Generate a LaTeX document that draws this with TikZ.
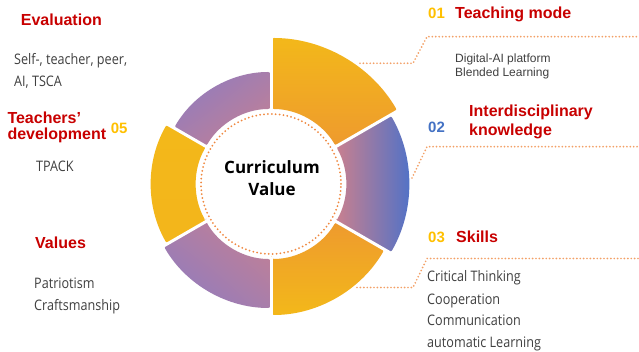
\documentclass[tikz,border=0pt]{standalone}
\usepackage{fontspec}
\setmainfont{Open Sans}
\newfontfamily\headfont{Liberation Sans}
\newfontfamily\bodyfont{Open Sans}[FakeStretch=0.87]
\newfontfamily\hubfont{Open Sans}
\usetikzlibrary{shadings}

\definecolor{hdred}{HTML}{C80000}
\definecolor{numgold}{HTML}{FFC000}
\definecolor{numblue}{HTML}{4472C4}
\definecolor{bodygray}{HTML}{404040}
\definecolor{ringyellow}{HTML}{F3B81A}
\definecolor{ringorange}{HTML}{EE9A2E}
\definecolor{ringpink}{HTML}{C9808F}
\definecolor{ringpurple}{HTML}{8A7BC4}
\definecolor{ringmauve}{HTML}{A97EAA}
\definecolor{ringblue}{HTML}{4A71CA}
\definecolor{hubdots}{HTML}{F08840}
\definecolor{leadcol}{HTML}{F3A066}

\tikzset{
  heading/.style={anchor=base west, inner sep=0pt, text=hdred,
    font=\headfont\bfseries\fontsize{16}{18}\selectfont},
  numlabel/.style={anchor=base west, inner sep=0pt,
    font=\headfont\bfseries\fontsize{15}{17}\selectfont},
  bodytext/.style={anchor=base west, inner sep=0pt, text=bodygray,
    font=\bodyfont\fontsize{14.5}{16}\selectfont},
  platformtext/.style={anchor=base west, inner sep=0pt, text=bodygray,
    font=\headfont\fontsize{12}{14}\selectfont},
  hubtext/.style={anchor=base, inner sep=0pt, text=black,
    font=\hubfont\bfseries\fontsize{17}{19}\selectfont},
  leader/.style={draw=leadcol, line width=1.9pt, line cap=round,
    dash pattern=on 0pt off 3.4pt},
  sepline/.style={white, line width=3pt},
  segment/.style={rounded corners=3pt},
}

\begin{document}
\begin{tikzpicture}[x=1pt,y=1pt]
\path[use as bounding box, fill=white] (0,0) rectangle (639,352);

% ---- ring of six sectors around the hub ----
\begin{scope}[shift={(271,168)}]
  % 01 teaching mode
  \shade[segment, top color=ringyellow, bottom color=ringorange]
    (30:75) -- (30:146) arc[start angle=30, end angle=90, radius=146]
    -- (90:75) arc[start angle=90, end angle=30, radius=75] -- cycle;
  % 02 interdisciplinary knowledge
  \shade[segment, left color=ringpink, right color=ringblue]
    (-30:75) -- (-30:138) arc[start angle=-30, end angle=30, radius=138]
    -- (30:75) arc[start angle=30, end angle=-30, radius=75] -- cycle;
  % 03 skills
  \shade[segment, top color=ringorange, bottom color=ringyellow]
    (-90:75) -- (-90:131) arc[start angle=-90, end angle=-30, radius=131]
    -- (-30:75) arc[start angle=-30, end angle=-90, radius=75] -- cycle;
  % 04 values
  \shade[segment, upper right=ringpink, lower left=ringpurple,
         upper left=ringmauve, lower right=ringmauve]
    (-150:75) -- (-150:124) arc[start angle=-150, end angle=-90, radius=124]
    -- (-90:75) arc[start angle=-90, end angle=-150, radius=75] -- cycle;
  % 05 teachers' development
  \shade[segment, top color=ringyellow, bottom color=ringyellow!92!ringorange]
    (150:75) -- (150:120) arc[start angle=150, end angle=210, radius=120]
    -- (210:75) arc[start angle=210, end angle=150, radius=75] -- cycle;
  % evaluation
  \shade[segment, upper left=ringpurple, lower right=ringpink,
         upper right=ringmauve, lower left=ringmauve]
    (90:75) -- (90:112) arc[start angle=90, end angle=150, radius=112]
    -- (150:75) arc[start angle=150, end angle=90, radius=75] -- cycle;
  % white gaps between sectors
  \foreach \a in {30,90,150,210,270,330}
    \draw[sepline] (\a:73) -- (\a:152);
  % dotted hub outline
  \draw[hubdots, line width=2pt, line cap=round, dash pattern=on 0pt off 3.9pt]
    (0,0) circle[radius=70];
\end{scope}

% ---- hub text ----
\node[hubtext] (hubA) at (272,178) {Curriculum};
\node[hubtext] (hubB) at (272,156.3) {Value};

% ---- leader lines ----
\coordinate (l1a) at (360,288.7);
\coordinate (l1b) at (413,288.7);
\coordinate (l1c) at (427,315.3);
\coordinate (l1d) at (639,315.3);
\coordinate (l2a) at (412,174);
\coordinate (l2c) at (427,205.3);
\coordinate (l2d) at (639,205.3);
\coordinate (l3a) at (357,64.5);
\coordinate (l3b) at (413,64.5);
\coordinate (l3c) at (427,93.5);
\coordinate (l3d) at (639,93.5);
\draw[leader] (l1a) -- (l1b) -- (l1c) -- (l1d);
\draw[leader] (l2a) -- (l2c) -- (l2d);
\draw[leader] (l3a) -- (l3b) -- (l3c) -- (l3d);

% ---- right side labels ----
\node[numlabel, text=numgold] (n01) at (428,333.5) {01};
\node[heading] (h01) at (455,333.5) {Teaching mode};
\node[platformtext] (t01a) at (455,289.7) {Digital-AI platform};
\node[platformtext] (t01b) at (455,275.3) {Blended Learning};

\node[numlabel, text=numblue] (n02) at (428,219.7) {02};
\node[heading] (h02a) at (469,235.3) {Interdisciplinary};
\node[heading] (h02b) at (469,216) {knowledge};

\node[numlabel, text=numgold] (n03) at (428,109.3) {03};
\node[heading] (h03) at (456,109.3) {Skills};
\node[bodytext] (t03a) at (427,70) {Critical Thinking};
\node[bodytext] (t03b) at (427,47.5) {Cooperation};
\node[bodytext] (t03c) at (427,26) {Communication};
\node[bodytext] (t03d) at (427,4.3) {automatic Learning};

% ---- left side labels ----
\node[heading] (hEv) at (20.7,326) {Evaluation};
\node[bodytext] (tEva) at (14,287) {Self-, teacher, peer,};
\node[bodytext] (tEvb) at (14,265.3) {AI, TSCA};

\node[heading] (h05a) at (7.3,228.7) {Teachers’};
\node[heading] (h05b) at (7.3,212) {development};
\node[numlabel, text=numgold] (n05) at (110.7,218.7) {05};
\node[bodytext] (t05) at (36,180.3) {TPACK};

\node[heading] (h04) at (35,103) {Values};
\node[bodytext] (t04a) at (34,63.7) {Patriotism};
\node[bodytext] (t04b) at (34,41) {Craftsmanship};
\end{tikzpicture}
\end{document}
